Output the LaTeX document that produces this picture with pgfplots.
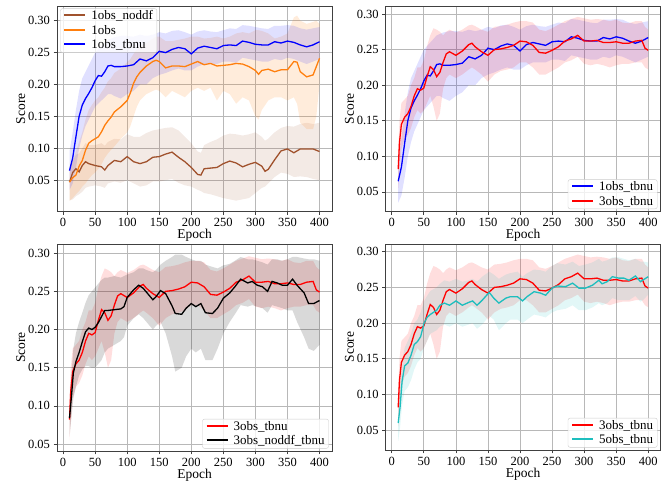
\documentclass[border=0pt]{standalone}
\usepackage{fontspec}
\setmainfont{Liberation Serif}
\usepackage{pgfplots}
\usepackage{pgfplotstable}
\pgfplotsset{compat=1.18}
\usepgfplotslibrary{fillbetween}

\definecolor{cbrown}{RGB}{160,82,45}
\definecolor{corange}{HTML}{FF7F0E}
\definecolor{cblue}{RGB}{0,0,255}
\definecolor{cred}{HTML}{FF0000}
\definecolor{ccyan}{RGB}{30,190,190}

% columns: epoch, mean, lower, upper
\pgfplotstableread{
x m lo hi
10 0.047 0.018 0.062
15 0.062 0.020 0.080
20 0.068 0.025 0.090
25 0.063 0.028 0.092
30 0.073 0.032 0.100
35 0.079 0.038 0.108
40 0.076 0.040 0.105
50 0.073 0.042 0.105
60 0.071 0.040 0.108
65 0.066 0.038 0.104
70 0.073 0.045 0.110
80 0.081 0.048 0.115
90 0.079 0.046 0.114
100 0.087 0.050 0.122
110 0.079 0.045 0.118
120 0.076 0.040 0.118
130 0.079 0.042 0.124
140 0.086 0.048 0.128
150 0.087 0.048 0.130
160 0.091 0.050 0.132
170 0.094 0.052 0.133
180 0.086 0.046 0.128
190 0.079 0.042 0.118
200 0.070 0.040 0.108
210 0.059 0.035 0.095
215 0.058 0.033 0.093
220 0.068 0.030 0.105
230 0.069 0.028 0.110
240 0.070 0.025 0.114
250 0.076 0.022 0.120
260 0.080 0.020 0.123
270 0.077 0.018 0.122
280 0.071 0.020 0.120
290 0.075 0.022 0.122
300 0.078 0.030 0.125
310 0.072 0.038 0.118
315 0.064 0.040 0.112
320 0.067 0.045 0.115
330 0.082 0.055 0.125
340 0.096 0.062 0.132
350 0.099 0.060 0.135
360 0.093 0.055 0.134
370 0.099 0.056 0.138
380 0.099 0.055 0.140
390 0.099 0.052 0.138
400 0.095 0.050 0.140
}\noddf

\pgfplotstableread{
x m lo hi
10 0.047 0.018 0.065
15 0.054 0.022 0.080
20 0.058 0.028 0.095
25 0.072 0.033 0.110
30 0.081 0.040 0.125
35 0.097 0.045 0.145
40 0.108 0.052 0.160
45 0.112 0.058 0.168
50 0.115 0.062 0.175
55 0.118 0.068 0.180
60 0.126 0.075 0.188
65 0.136 0.085 0.195
70 0.143 0.092 0.205
75 0.149 0.098 0.210
80 0.157 0.103 0.218
90 0.165 0.115 0.225
100 0.175 0.125 0.235
105 0.187 0.135 0.240
110 0.202 0.150 0.248
115 0.212 0.165 0.255
120 0.219 0.175 0.260
130 0.229 0.185 0.265
140 0.236 0.190 0.272
145 0.238 0.192 0.275
150 0.236 0.190 0.275
160 0.226 0.180 0.268
170 0.229 0.190 0.268
180 0.229 0.185 0.270
190 0.228 0.180 0.272
200 0.232 0.190 0.275
210 0.236 0.195 0.275
220 0.231 0.190 0.272
230 0.233 0.195 0.273
240 0.229 0.175 0.275
250 0.230 0.190 0.272
260 0.231 0.185 0.275
270 0.233 0.170 0.280
280 0.232 0.180 0.282
290 0.228 0.175 0.280
300 0.222 0.150 0.285
305 0.216 0.145 0.285
310 0.222 0.160 0.284
320 0.224 0.175 0.280
330 0.220 0.180 0.272
340 0.223 0.180 0.275
350 0.223 0.175 0.280
360 0.236 0.180 0.305
365 0.235 0.170 0.308
370 0.220 0.140 0.300
380 0.212 0.130 0.295
390 0.215 0.130 0.298
395 0.228 0.150 0.300
400 0.241 0.200 0.295
}\obs

\pgfplotstableread{
x m lo hi
10 0.065 0.035 0.095
15 0.085 0.045 0.125
20 0.118 0.070 0.160
25 0.150 0.100 0.190
30 0.168 0.120 0.210
35 0.178 0.135 0.220
40 0.186 0.145 0.230
45 0.195 0.155 0.240
50 0.206 0.165 0.250
55 0.214 0.170 0.255
60 0.213 0.175 0.260
65 0.220 0.180 0.265
70 0.229 0.185 0.270
75 0.230 0.185 0.272
80 0.228 0.182 0.274
90 0.228 0.178 0.276
100 0.229 0.185 0.276
110 0.231 0.190 0.275
120 0.240 0.200 0.278
130 0.237 0.200 0.276
140 0.242 0.210 0.278
150 0.252 0.215 0.282
160 0.250 0.218 0.280
170 0.255 0.222 0.284
180 0.258 0.225 0.285
190 0.256 0.222 0.282
200 0.248 0.222 0.278
210 0.257 0.228 0.283
220 0.260 0.232 0.285
230 0.258 0.232 0.283
240 0.256 0.232 0.282
250 0.261 0.236 0.285
260 0.262 0.236 0.288
270 0.261 0.234 0.287
280 0.268 0.242 0.293
290 0.266 0.240 0.292
300 0.263 0.238 0.290
310 0.262 0.236 0.288
320 0.262 0.236 0.287
330 0.267 0.240 0.292
340 0.265 0.238 0.292
350 0.268 0.242 0.293
360 0.266 0.240 0.292
370 0.262 0.236 0.288
380 0.259 0.232 0.286
390 0.262 0.236 0.288
400 0.267 0.240 0.290
}\tbnuA

\pgfplotstableread{
x m lo hi
10 0.082 0.055 0.110
12 0.120 0.080 0.150
15 0.145 0.110 0.175
20 0.155 0.125 0.180
25 0.160 0.130 0.185
30 0.170 0.140 0.200
35 0.185 0.155 0.210
40 0.195 0.165 0.225
45 0.193 0.160 0.225
50 0.196 0.165 0.235
55 0.212 0.175 0.255
60 0.226 0.185 0.270
65 0.222 0.170 0.280
70 0.212 0.150 0.278
75 0.218 0.160 0.275
80 0.232 0.195 0.270
85 0.244 0.210 0.275
90 0.247 0.215 0.278
100 0.242 0.210 0.274
110 0.248 0.215 0.278
120 0.257 0.222 0.284
125 0.259 0.225 0.285
130 0.254 0.222 0.283
140 0.247 0.215 0.278
150 0.242 0.205 0.275
160 0.250 0.215 0.282
170 0.251 0.220 0.283
180 0.253 0.222 0.285
190 0.256 0.225 0.288
200 0.262 0.232 0.290
210 0.261 0.232 0.290
220 0.256 0.225 0.288
230 0.246 0.215 0.278
240 0.245 0.215 0.276
250 0.249 0.220 0.280
260 0.254 0.225 0.285
270 0.262 0.232 0.290
280 0.265 0.235 0.293
290 0.270 0.240 0.296
300 0.262 0.230 0.294
310 0.262 0.228 0.292
320 0.263 0.230 0.293
330 0.260 0.228 0.292
340 0.260 0.225 0.290
350 0.261 0.228 0.292
360 0.259 0.230 0.288
370 0.259 0.230 0.287
380 0.262 0.232 0.290
390 0.263 0.232 0.290
395 0.252 0.225 0.282
400 0.249 0.222 0.278
}\tbnuC

\pgfplotstableread{
x m lo hi
10 0.084 0.060 0.100
13 0.112 0.085 0.140
16 0.143 0.110 0.175
20 0.158 0.125 0.195
25 0.170 0.140 0.210
30 0.184 0.148 0.222
35 0.197 0.152 0.235
40 0.202 0.152 0.245
45 0.200 0.150 0.250
50 0.203 0.150 0.255
55 0.209 0.155 0.260
60 0.217 0.160 0.265
65 0.225 0.170 0.268
70 0.225 0.175 0.268
80 0.226 0.180 0.270
90 0.227 0.185 0.268
95 0.230 0.190 0.270
100 0.242 0.205 0.272
110 0.252 0.215 0.275
118 0.258 0.220 0.280
125 0.254 0.215 0.280
130 0.249 0.210 0.278
140 0.239 0.200 0.275
145 0.243 0.205 0.278
152 0.251 0.210 0.285
160 0.247 0.195 0.290
170 0.231 0.165 0.295
175 0.221 0.145 0.298
185 0.220 0.150 0.298
192 0.228 0.165 0.295
200 0.234 0.175 0.292
207 0.230 0.170 0.290
215 0.234 0.175 0.290
222 0.222 0.160 0.285
233 0.221 0.160 0.282
241 0.228 0.175 0.280
250 0.241 0.195 0.284
260 0.248 0.210 0.286
268 0.256 0.220 0.290
277 0.266 0.232 0.295
288 0.261 0.230 0.292
295 0.263 0.232 0.292
303 0.258 0.230 0.290
311 0.256 0.228 0.288
319 0.250 0.222 0.285
326 0.263 0.232 0.292
334 0.261 0.230 0.292
342 0.258 0.228 0.290
350 0.258 0.225 0.292
358 0.266 0.225 0.295
365 0.258 0.210 0.295
376 0.248 0.190 0.293
383 0.234 0.175 0.292
391 0.234 0.172 0.292
400 0.238 0.180 0.290
}\noddftbnu

\pgfplotstableread{
x m lo hi
10 0.060 0.035 0.080
13 0.083 0.055 0.110
16 0.118 0.085 0.145
20 0.140 0.105 0.165
25 0.144 0.110 0.175
30 0.155 0.120 0.185
35 0.170 0.135 0.200
40 0.174 0.145 0.205
45 0.181 0.150 0.215
50 0.199 0.165 0.230
55 0.208 0.175 0.238
60 0.212 0.185 0.245
70 0.218 0.190 0.250
75 0.225 0.195 0.255
82 0.228 0.198 0.260
90 0.225 0.195 0.258
100 0.231 0.200 0.262
110 0.225 0.195 0.258
120 0.229 0.198 0.260
126 0.231 0.200 0.262
133 0.225 0.192 0.258
141 0.232 0.198 0.265
152 0.243 0.210 0.272
159 0.235 0.205 0.268
167 0.228 0.190 0.262
178 0.235 0.200 0.268
185 0.237 0.205 0.270
196 0.237 0.205 0.272
204 0.231 0.200 0.265
211 0.237 0.205 0.270
222 0.244 0.212 0.275
232 0.242 0.210 0.274
240 0.239 0.208 0.272
250 0.249 0.215 0.280
258 0.252 0.218 0.284
271 0.251 0.220 0.282
282 0.256 0.225 0.286
292 0.249 0.218 0.280
302 0.249 0.218 0.282
313 0.253 0.222 0.285
323 0.260 0.228 0.290
328 0.255 0.225 0.286
336 0.258 0.228 0.288
344 0.265 0.235 0.292
354 0.263 0.232 0.292
362 0.263 0.232 0.290
370 0.260 0.232 0.288
380 0.266 0.238 0.290
388 0.258 0.230 0.286
393 0.261 0.233 0.286
400 0.265 0.240 0.285
}\tbnuE

% band + mean line: #1 table, #2 colour, #3 band opacity, #4 path name
\newcommand{\series}[4]{%
  \addplot[draw=none, name path=#4hi, forget plot] table[x=x,y=hi]{#1};
  \addplot[draw=none, name path=#4lo, forget plot] table[x=x,y=lo]{#1};
  \addplot[fill=#2, fill opacity=#3, draw=none, forget plot] fill between[of=#4hi and #4lo];
  \addplot[color=#2, line width=1.3pt, forget plot] table[x=x,y=m]{#1};
}
% legend key: coloured rule, then the name
\newcommand{\legline}[1]{\textcolor{#1}{\rule[0.27em]{21pt}{1.8pt}}\hspace{6pt}}
\tikzset{legbox/.style={draw=black!20, rounded corners=2pt, fill=white, fill opacity=0.8,
  text opacity=1, inner xsep=4pt, inner ysep=2pt, align=left,
  font=\fontsize{13}{14.5}\selectfont}}

\pgfplotsset{
  panel/.style={
    scale only axis, width=275pt, anchor=south west,
    xmin=-9.5, xmax=419.5,
    xtick={0,50,...,400},
    ytick={0.05,0.10,...,0.31},
    grid=major,
    grid style={black!28, line width=0.7pt},
    axis line style={black!75, line width=0.8pt},
    tick style={black!75, line width=0.7pt},
    tick align=outside, major tick length=3.5pt,
    xtick pos=bottom, ytick pos=left,
    /pgf/number format/assume math mode=true,
    ticklabel style={font=\fontsize{12.5}{14}\selectfont},
    yticklabel style={/pgf/number format/fixed, /pgf/number format/fixed zerofill, /pgf/number format/precision=2},
    xlabel={Epoch}, ylabel={Score},
    label style={font=\fontsize{13.5}{15}\selectfont},
    xlabel style={yshift=4.5pt},
    ylabel style={yshift=-4pt},
  },
}

\begin{document}
\begin{tikzpicture}

\begin{axis}[panel, at={(57pt,269.5pt)}, height=205.5pt, ymin=0.001, ymax=0.323]
\series{\noddf}{cbrown}{0.12}{a}
\series{\obs}{corange}{0.15}{b}
\series{\tbnuA}{cblue}{0.12}{c}
\node[legbox, anchor=north west] at (rel axis cs:0.012,0.988)
  {\legline{cbrown}1obs\_noddf\\ \legline{corange}1obs\\ \legline{cblue}1obs\_tbnu};
\end{axis}

\begin{axis}[panel, at={(385.7pt,269.5pt)}, height=205.5pt, ymin=0.0225, ymax=0.3113]
\series{\tbnuA}{cblue}{0.12}{c}
\series{\tbnuC}{cred}{0.13}{d}
\node[legbox, anchor=south east] at (rel axis cs:0.988,0.012)
  {\legline{cblue}1obs\_tbnu\\ \legline{cred}3obs\_tbnu};
\end{axis}

\begin{axis}[panel, at={(57pt,30pt)}, height=207pt, ymin=0.041, ymax=0.312]
\series{\tbnuC}{cred}{0.13}{d}
\series{\noddftbnu}{black}{0.15}{e}
\node[legbox, anchor=south east] at (rel axis cs:0.988,0.012)
  {\legline{cred}3obs\_tbnu\\ \legline{black}3obs\_noddf\_tbnu};
\end{axis}

\begin{axis}[panel, at={(385.7pt,31pt)}, height=206pt, ymin=0.0222, ymax=0.3108]
\series{\tbnuC}{cred}{0.13}{d}
\series{\tbnuE}{ccyan}{0.13}{f}
\node[legbox, anchor=south east] at (rel axis cs:0.988,0.012)
  {\legline{cred}3obs\_tbnu\\ \legline{ccyan}5obs\_tbnu};
\end{axis}

\pgfresetboundingbox
\path[use as bounding box] (0,0) rectangle (671pt,481pt);
\end{tikzpicture}
\end{document}
